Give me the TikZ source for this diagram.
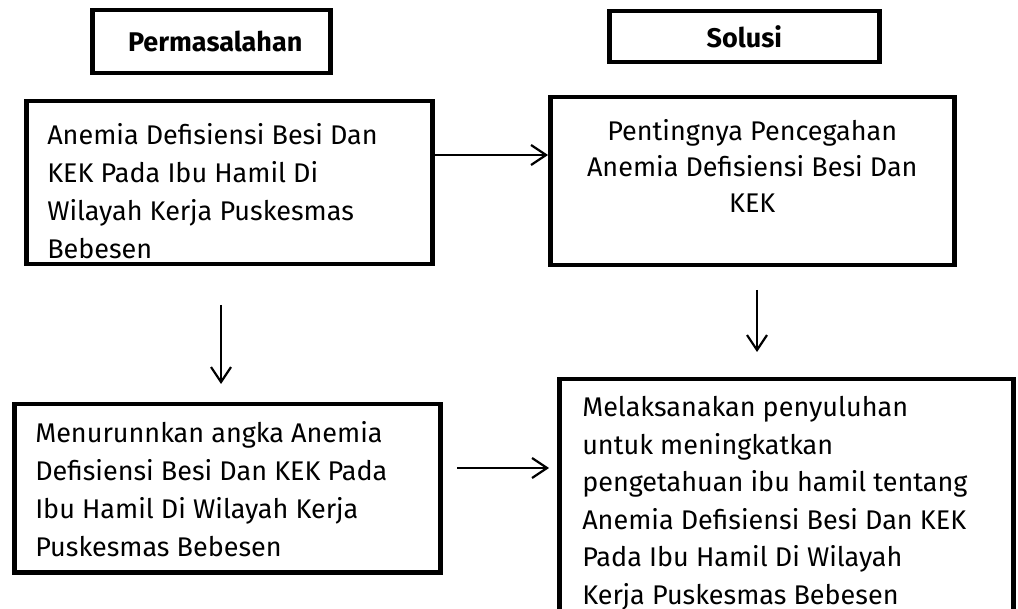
\documentclass[tikz,border=0pt]{standalone}
\usepackage{fontspec}
\setmainfont{Fira Sans}
\usetikzlibrary{arrows.meta}
\tikzset{
  frame/.style={draw, line width=4.5pt, inner sep=0pt, anchor=north west},
  conn/.style={line width=2.2pt, -{Straight Barb[length=15pt, width=20pt, line width=2.2pt]}},
}
\newcommand{\bodyfont}{\fontsize{27}{38}\selectfont}
\newcommand{\headfont}{\fontsize{27}{30}\selectfont\bfseries}
\begin{document}
\begin{tikzpicture}[x=1pt, y=-1pt]
\path[use as bounding box, fill=white] (0,0) rectangle (1018,609);

% header boxes
\node[frame] (hp) at (90,8) {\parbox[c][63pt][c]{238pt}{\centering\headfont\hspace*{8pt}Permasalahan}};
\node[frame] (hs) at (607,9) {\parbox[c][51pt][c]{270pt}{\centering\headfont Solusi}};

% main boxes
\node[frame] (A) at (24,99) {\parbox[c][163pt][t]{406pt}{\bodyfont\vspace*{17pt}\hspace*{21pt}\begin{tabular}[t]{@{}l@{}}Anemia Defisiensi Besi Dan\\KEK Pada Ibu Hamil Di\\Wilayah Kerja Puskesmas\\Bebesen\end{tabular}}};

\node[frame] (B) at (548,95) {\parbox[c][168pt][t]{404pt}{\fontsize{27}{36}\selectfont\vspace*{18pt}\centering\begin{tabular}[t]{@{}c@{}}Pentingnya Pencegahan\\Anemia Defisiensi Besi Dan\\KEK\end{tabular}\par}};

\node[frame] (C) at (12,402) {\parbox[c][168pt][t]{426pt}{\bodyfont\vspace*{12pt}\hspace*{21pt}\begin{tabular}[t]{@{}l@{}}Menurunnkan angka Anemia\\Defisiensi Besi Dan KEK Pada\\Ibu Hamil Di Wilayah Kerja\\Puskesmas Bebesen\end{tabular}}};

\node[frame] (D) at (557,377) {\parbox[c][240pt][t]{454pt}{\fontsize{27}{37.6}\selectfont\vspace*{11pt}\hspace*{23pt}\begin{tabular}[t]{@{}l@{}}Melaksanakan penyuluhan\\untuk meningkatkan\\pengetahuan ibu hamil tentang\\Anemia Defisiensi Besi Dan KEK\\Pada Ibu Hamil Di Wilayah\\Kerja Puskesmas Bebesen\end{tabular}}};

% connectors
\coordinate (ab) at (0,155);
\draw[conn] (A.east |- ab) -- (B.west |- ab);

\coordinate (d1s) at (221,305);
\coordinate (d1e) at (221,384);
\draw[conn] (d1s) -- (d1e);

\coordinate (d2s) at (757,290);
\coordinate (d2e) at (757,352);
\draw[conn] (d2s) -- (d2e);

\coordinate (cds) at (457,468);
\coordinate (cde) at (549,468);
\draw[conn] (cds) -- (cde);
\end{tikzpicture}
\end{document}
